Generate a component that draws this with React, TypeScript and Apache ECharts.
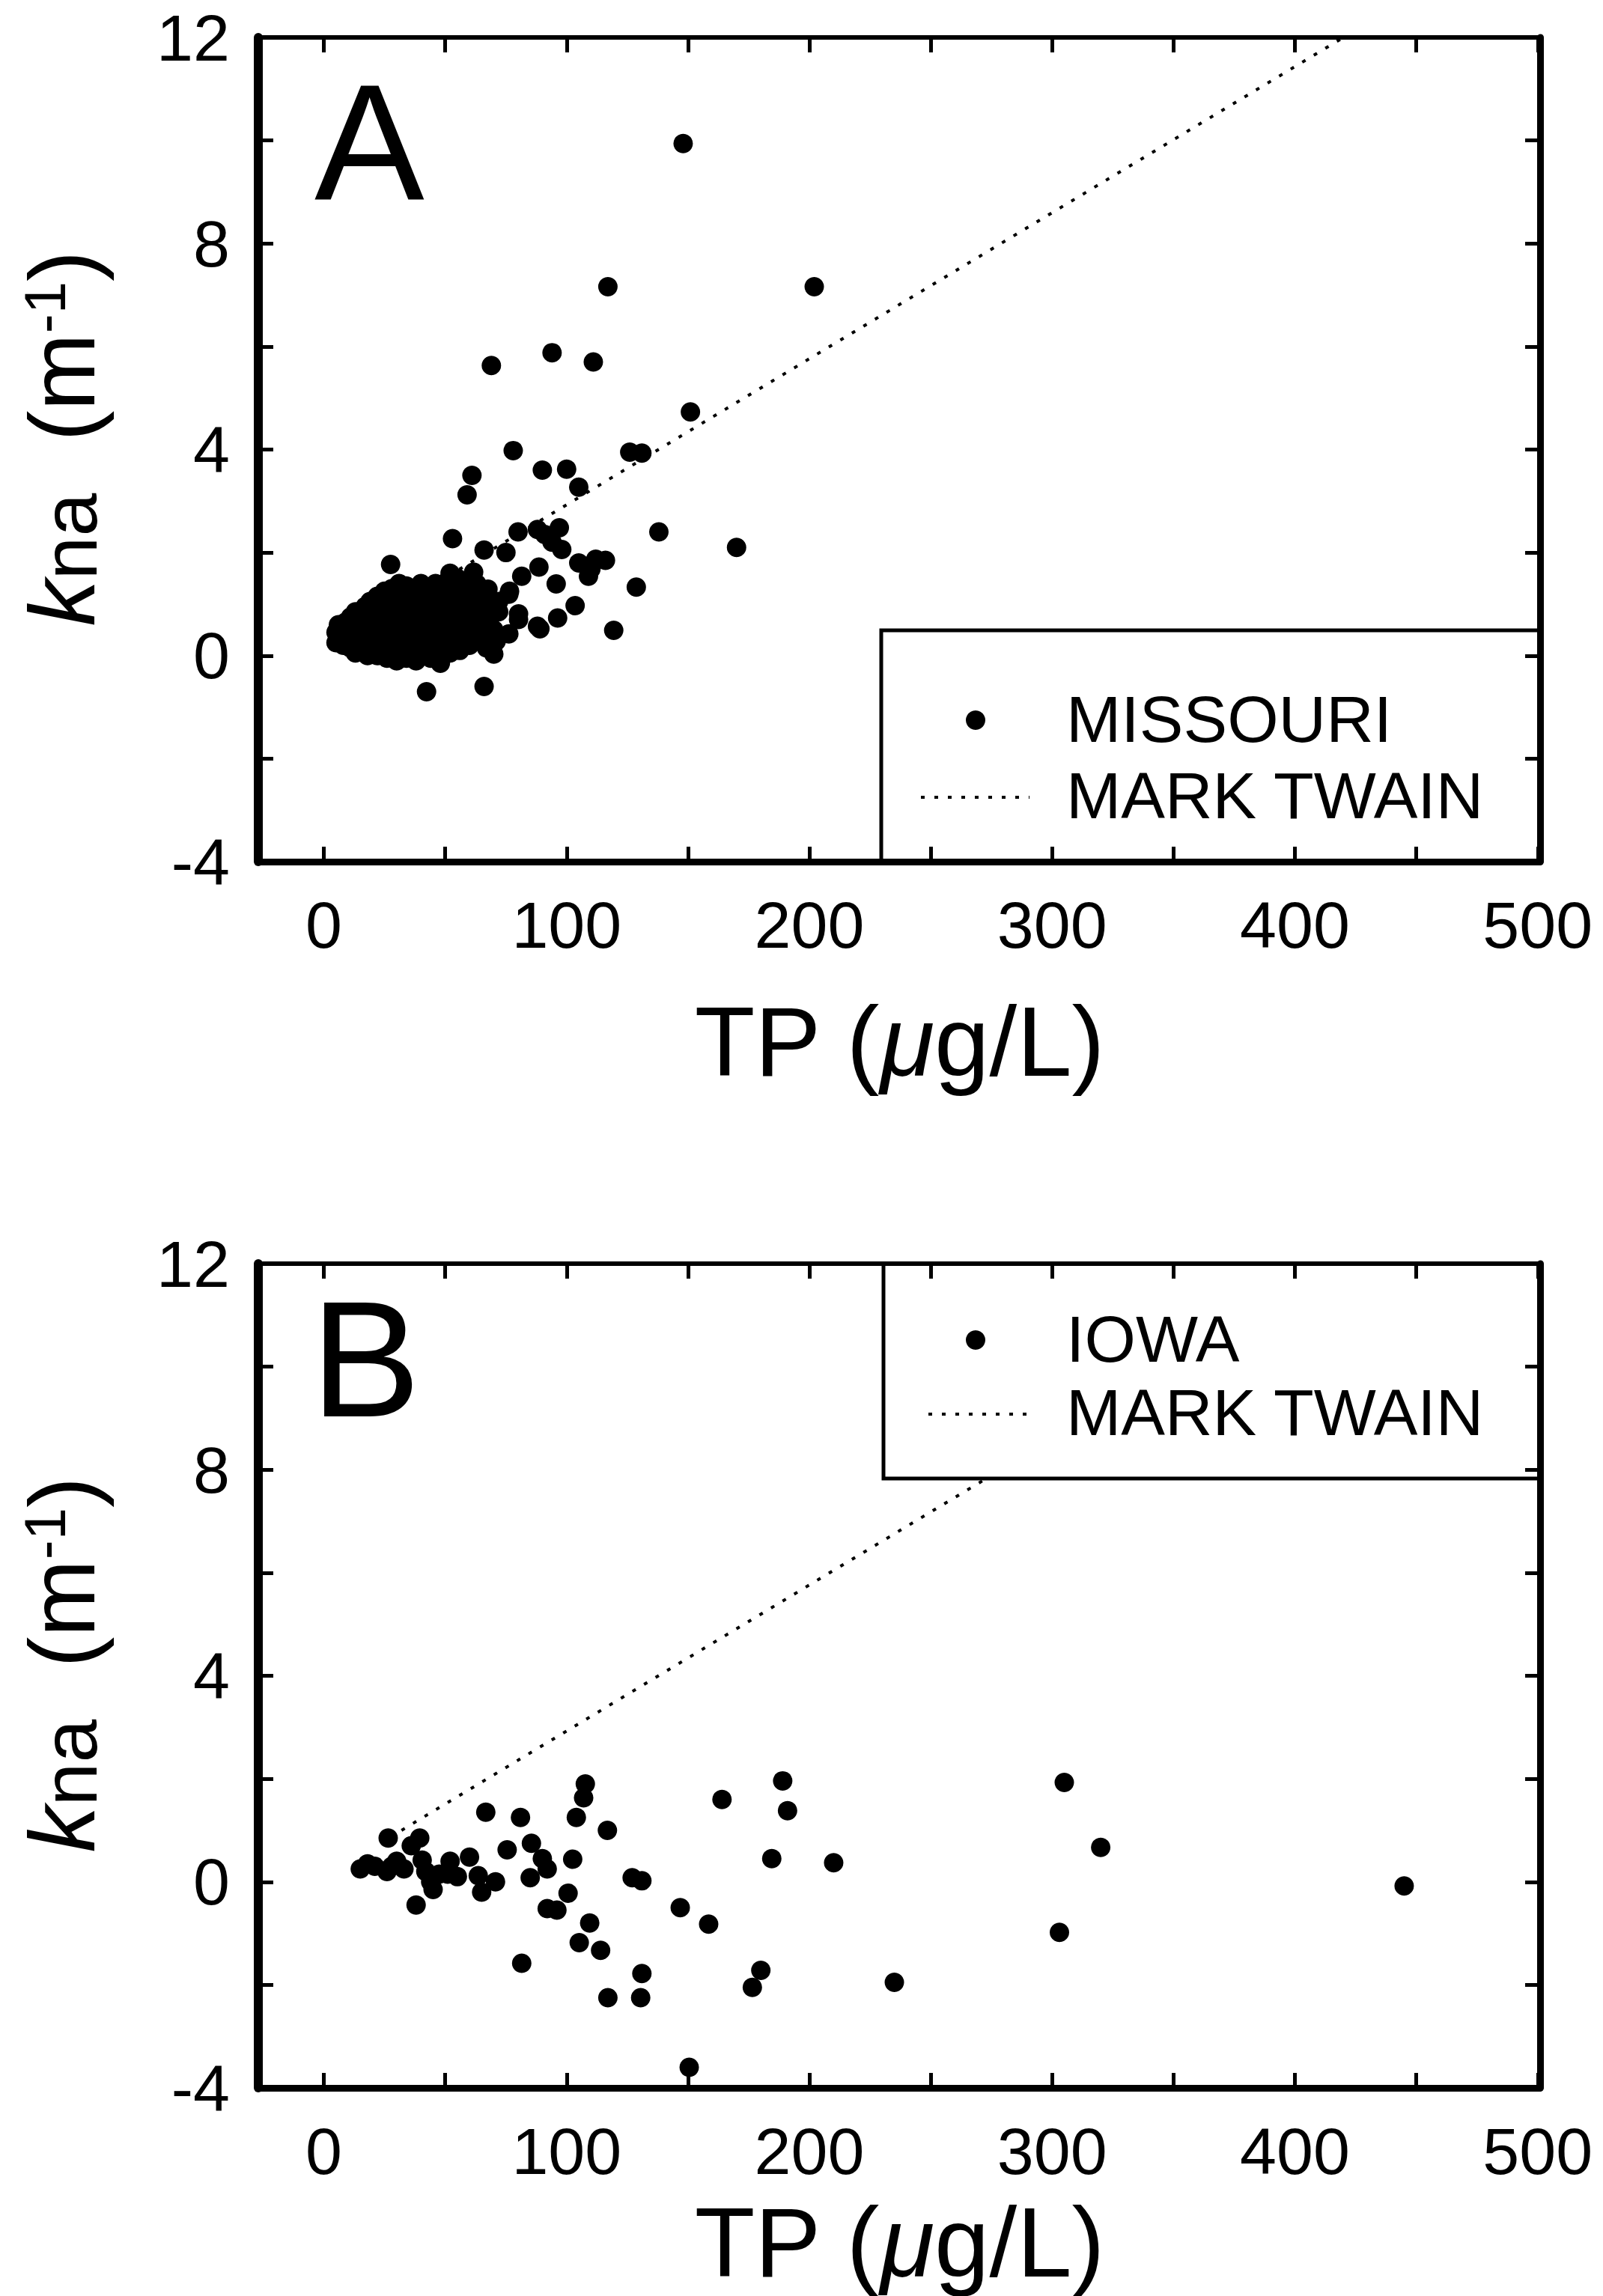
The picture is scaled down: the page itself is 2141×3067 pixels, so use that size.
import React, { useEffect, useRef } from "react";
import * as echarts from "echarts";

// ---------------- DATA ----------------
// Panel A: Missouri reservoirs (TP µg/L, kna m^-1)
const missouriTP = [
  148, 117, 202, 69, 94, 111, 151, 78, 126, 131, 90, 100, 105, 61, 59, 138, 170, 53, 66, 75,
  80, 88, 91, 97, 94, 98, 27.5, 52, 61.7, 63, 76.5, 81.5, 88.6, 95.7, 105, 109, 112, 116, 110, 128.7,
  103.5, 96.3, 89, 80.2, 76.2, 70, 71, 119.4, 42.3, 66, 67.6, 76.2, 80.2, 88, 60,
  5, 5, 6, 6, 8, 8, 9, 9, 11, 11, 11, 11, 13, 13, 13, 14, 14, 16, 16, 16,
  17, 17, 18, 18, 19, 19, 20, 20, 22, 22, 22, 22, 23, 24, 24, 25, 25, 26, 26, 27,
  28, 28, 28, 29, 30, 30, 30, 31, 32, 32, 32, 33, 34, 34, 34, 35, 36, 36, 37, 37,
  38, 38, 39, 39, 40, 40, 41, 41, 42, 42, 43, 44, 44, 44, 45, 46, 46, 46, 47, 47,
  48, 48, 49, 50, 50, 51, 51, 52, 52, 53, 54, 55, 55, 56, 56, 57, 58, 58, 60, 60,
  61, 61, 62, 63, 64, 64, 66, 66, 67, 68, 68, 70, 72, 72,
];
const missouriK = [
  9.94, 7.16, 7.16, 5.63, 5.88, 5.7, 4.73, 3.98, 3.95, 3.93, 3.6, 3.62, 3.27, 3.5, 3.12, 2.4, 2.1, 2.27, 2.05, 2.0,
  2.4, 2.45, 2.35, 2.48, 2.2, 2.06, 1.77, 1.6, 1.62, 1.39, 1.25, 1.54, 1.72, 1.39, 1.8, 1.54, 1.87, 1.85, 1.68, 1.33,
  0.97, 0.73, 0.52, 0.7, 0.42, 0.03, 0.28, 0.49, -0.7, -0.6, 1.29, 1.19, 0.81, 0.57, 0.67,
  0.25, 0.45, 0.35, 0.6, 0.2, 0.5, 0.4, 0.65, 0.15, 0.3, 0.55, 0.75, 0.05, 0.45, 0.85, 0.25, 0.65, 0.1, 0.4, 0.75,
  0.55, 0.95, 0.0, 0.3, 0.7, 1.05, 0.15, 0.5, 0.0, 0.35, 0.8, 1.15, 0.55, 0.2, 1.0, 0.65, 1.25, -0.05, 0.4, 0.85,
  0.15, 0.55, 1.3, 1.05, -0.1, 0.35, 0.75, 1.4, 0.1, 0.55, 1.1, 0.85, -0.05, 0.3, 1.35, 0.65, 1.05, 0.15, 0.45, 1.3,
  -0.1, 0.85, 0.25, 0.6, 1.2, 1.4, 0.0, 0.95, 0.4, 0.7, 1.25, -0.05, 0.2, 0.95, 0.55, 0.05, 1.1, 1.4, 0.35, 0.8,
  -0.15, 0.6, 1.2, 0.2, 0.9, 0.5, 1.45, 0.05, 1.15, 0.75, 0.35, 1.0, 1.5, 0.1, 0.6, 1.25, 0.4, 0.85, 1.1, 0.2,
  0.55, 1.45, 0.9, 0.3, 1.2, 0.65, 0.95, 0.45, 0.15, 1.1, 0.7, 0.5, 0.85, 1.05,
];

// Panel B: Iowa lakes
const iowaTP = [
  15, 18, 21, 26, 26.5, 28, 30, 33, 36, 38, 39.5, 40.5, 42, 44, 45, 47.5, 51, 52, 55, 60,
  63.6, 65, 66.7, 70.7, 75.5, 81, 81.5, 85.5, 85, 90, 92, 92, 96, 100.6, 102.5, 104, 107, 107.7, 109.5, 105.2,
  114, 116.8, 117, 127, 131, 131, 130.5, 146.8, 150.5, 158.5, 164, 176.5, 180, 184.5, 189, 191, 210, 235, 303, 305,
  320, 445,
];
const iowaK = [
  0.25, 0.35, 0.3, 0.2, 0.85, 0.3, 0.4, 0.25, 0.7, -0.45, 0.85, 0.42, 0.2, 0.0, -0.15, 0.15, 0.15, 0.4, 0.1, 0.48,
  0.12, -0.2, 1.35, 0.0, 0.62, 1.25, -1.58, 0.75, 0.08, 0.45, 0.25, -0.52, -0.55, -0.22, 0.44, 1.25, 1.63, 1.9, -0.8, -1.18,
  -1.33, 1.0, -2.25, 0.08, 0.02, -1.78, -2.25, -0.5, -3.6, -0.82, 1.6, -2.05, -1.72, 0.45, 1.96, 1.38, 0.37, -1.95, -0.98, 1.93,
  0.67, -0.08,
];

// Mark Twain reference relation (dotted line)
const markTwainTP = [32, 420];
const markTwainK = [1.0, 12.0];

// Axis ticks / labels
const xTickValues = [0, 50, 100, 150, 200, 250, 300, 350, 400, 450, 500];
const xLabelValues = [0, 100, 200, 300, 400, 500];
const yLabelValues = [-4, 0, 4, 8, 12];
const X_MIN = -27;
const X_MAX = 501;
const Y_MIN = -4;
const Y_MAX = 12;

// ---------------- LAYOUT ----------------
const W = 2141;
const H = 3067;
const FONT = '"Liberation Sans", Arial, Helvetica, sans-serif';
const GRID_L = 345;
const GRID_R = W - 2057;
const A_TOP = 50;
const B_TOP = 1688;
const PLOT_H = 1101;

const zip = (xs: number[], ys: number[]) => xs.map((x, i) => [x, ys[i]]);

const yTitleRich = {
  t: { fontSize: 124, fontFamily: FONT, color: "#000" },
  i: { fontSize: 124, fontFamily: FONT, color: "#000", fontStyle: "italic" },
  n: { fontSize: 104, fontFamily: FONT, color: "#000", verticalAlign: "bottom", lineHeight: 104 },
  s: { fontSize: 78, fontFamily: FONT, color: "#000", verticalAlign: "top", lineHeight: 78 },
};
const xTitleRich = {
  t: { fontSize: 132, fontFamily: FONT, color: "#000" },
  i: { fontSize: 132, fontFamily: FONT, color: "#000", fontStyle: "italic" },
};

function xAxes(gridIndex: number, nameGap: number) {
  return [
    {
      type: "value",
      gridIndex,
      position: "bottom",
      min: X_MIN,
      max: X_MAX,
      z: 50,
      axisLine: { show: true, onZero: false, lineStyle: { color: "#000", width: 9 } },
      axisTick: { show: true, inside: true, length: 20, customValues: xTickValues, lineStyle: { color: "#000", width: 5 } },
      axisLabel: { show: true, customValues: xLabelValues, margin: 40, fontSize: 88, fontFamily: FONT, color: "#000" },
      splitLine: { show: false },
      name: "{t|TP (}{i|μ}{t|g/L)}",
      nameLocation: "middle",
      nameGap,
      nameTextStyle: { rich: xTitleRich },
    },
    {
      type: "value",
      gridIndex,
      position: "top",
      min: X_MIN,
      max: X_MAX,
      z: 50,
      axisLine: { show: true, onZero: false, lineStyle: { color: "#000", width: 6 } },
      axisTick: { show: true, inside: true, length: 20, customValues: xTickValues, lineStyle: { color: "#000", width: 5 } },
      axisLabel: { show: false },
      splitLine: { show: false },
    },
  ];
}

function yAxes(gridIndex: number) {
  return [
    {
      type: "value",
      gridIndex,
      position: "left",
      min: Y_MIN,
      max: Y_MAX,
      interval: 2,
      z: 50,
      axisLine: { show: true, onZero: false, lineStyle: { color: "#000", width: 12 } },
      axisTick: { show: true, inside: true, length: 20, lineStyle: { color: "#000", width: 5 } },
      axisLabel: { show: true, customValues: yLabelValues, margin: 38, fontSize: 88, fontFamily: FONT, color: "#000" },
      splitLine: { show: false },
      name: "{i|k}{n|na}{t|  (m}{s|-1}{t|)}",
      nameLocation: "middle",
      nameRotate: 90,
      nameGap: 200,
      nameTextStyle: { rich: yTitleRich, padding: [0, 0, 0, 30] },
    },
    {
      type: "value",
      gridIndex,
      position: "right",
      min: Y_MIN,
      max: Y_MAX,
      interval: 2,
      z: 50,
      axisLine: { show: true, onZero: false, lineStyle: { color: "#000", width: 9 } },
      axisTick: { show: true, inside: true, length: 20, lineStyle: { color: "#000", width: 5 } },
      axisLabel: { show: false },
      splitLine: { show: false },
    },
  ];
}

function scatterSeries(name: string, xi: number, yi: number, xs: number[], ys: number[]) {
  return {
    type: "scatter",
    name,
    xAxisIndex: xi,
    yAxisIndex: yi,
    data: zip(xs, ys),
    symbol: "circle",
    symbolSize: 26,
    itemStyle: { color: "#000", opacity: 1 },
    z: 3,
  };
}

function twainSeries(xi: number, yi: number) {
  return {
    type: "line",
    name: "MARK TWAIN",
    xAxisIndex: xi,
    yAxisIndex: yi,
    data: zip(markTwainTP, markTwainK),
    showSymbol: false,
    symbol: "none",
    lineStyle: { color: "#000", width: 4, type: [5, 13] },
    z: 2,
  };
}

function legendGraphics(
  box: { x: number; y: number; w: number; h: number },
  dotY: number,
  lineY: number,
  label1: string,
  sampleX1: number,
  sampleX2: number
) {
  return [
    {
      type: "rect",
      z: 10,
      shape: { x: box.x, y: box.y, width: box.w, height: box.h },
      style: { fill: "#fff", stroke: "#000", lineWidth: 5 },
    },
    { type: "circle", z: 11, shape: { cx: 1303, cy: dotY + 2, r: 13 }, style: { fill: "#000" } },
    {
      type: "text",
      z: 11,
      x: 1424,
      y: dotY,
      style: { text: label1, font: `88px ${FONT}`, fill: "#000", align: "left", verticalAlign: "middle" },
    },
    {
      type: "line",
      z: 11,
      shape: { x1: sampleX1, y1: lineY + 3, x2: sampleX2, y2: lineY + 3 },
      style: { stroke: "#000", lineWidth: 4, lineDash: [5, 13] },
    },
    {
      type: "text",
      z: 11,
      x: 1424,
      y: lineY,
      style: { text: "MARK TWAIN", font: `88px ${FONT}`, fill: "#000", align: "left", verticalAlign: "middle" },
    },
  ];
}

export default function App() {
  const ref = useRef<HTMLDivElement>(null);

  useEffect(() => {
    if (!ref.current) return;
    const chart = echarts.init(ref.current, undefined, { renderer: "svg", width: W, height: H });

    const option: any = {
      animation: false,
      backgroundColor: "#fff",
      grid: [
        { left: GRID_L, right: GRID_R, top: A_TOP, height: PLOT_H, containLabel: false },
        { left: GRID_L, right: GRID_R, top: B_TOP, height: PLOT_H, containLabel: false },
      ],
      xAxis: [...xAxes(0, 174), ...xAxes(1, 140)],
      yAxis: [...yAxes(0), ...yAxes(1)],
      series: [
        twainSeries(0, 0),
        scatterSeries("MISSOURI", 0, 0, missouriTP, missouriK),
        twainSeries(2, 2),
        scatterSeries("IOWA", 2, 2, iowaTP, iowaK),
      ],
      graphic: [
        ...legendGraphics({ x: 1177, y: 842, w: 2057 - 1177, h: 1151 - 842 }, 960, 1062, "MISSOURI", 1230, 1375),
        ...legendGraphics({ x: 1180, y: B_TOP, w: 2057 - 1180, h: 1975 - B_TOP }, 1788, 1886, "IOWA", 1240, 1378),
        {
          type: "text",
          z: 11,
          x: 420,
          y: A_TOP + 140,
          style: { text: "A", font: `220px ${FONT}`, fill: "#000", align: "left", verticalAlign: "middle" },
        },
        {
          type: "text",
          z: 11,
          x: 415,
          y: B_TOP + 128,
          style: { text: "B", font: `220px ${FONT}`, fill: "#000", align: "left", verticalAlign: "middle" },
        },
      ],
    };

    chart.setOption(option);
    return () => chart.dispose();
  }, []);

  return (
    <div
      ref={ref}
      style={{ position: "absolute", left: 0, top: 0, width: W, height: H, background: "#fff" }}
    />
  );
}
